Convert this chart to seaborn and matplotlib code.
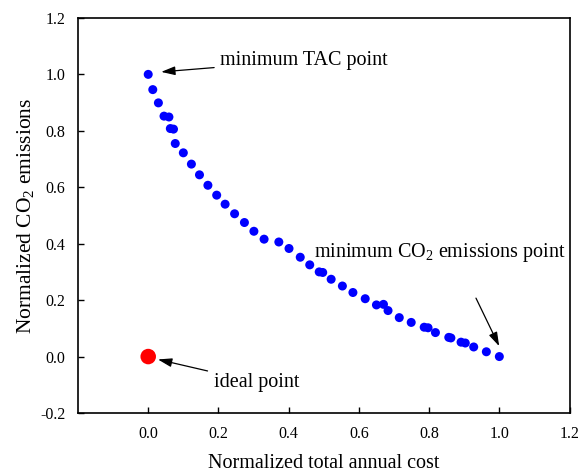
import matplotlib
matplotlib.use("Agg")
import matplotlib.pyplot as plt
import seaborn as sns
import pandas as pd

cost = [0.0, 0.013, 0.029, 0.045, 0.059, 0.063, 0.072, 0.077, 0.100, 0.123, 0.146, 0.170,
        0.195, 0.219, 0.246, 0.274, 0.301, 0.330, 0.372, 0.401, 0.433, 0.460, 0.487, 0.497,
        0.521, 0.553, 0.583, 0.618, 0.650, 0.670, 0.683, 0.715, 0.749, 0.786, 0.797, 0.818,
        0.856, 0.862, 0.891, 0.903, 0.927, 0.963, 1.0]
co2 = [1.0, 0.946, 0.899, 0.852, 0.849, 0.808, 0.806, 0.755, 0.722, 0.682, 0.644, 0.607,
       0.572, 0.540, 0.506, 0.475, 0.444, 0.416, 0.406, 0.383, 0.352, 0.325, 0.300, 0.298,
       0.274, 0.250, 0.227, 0.205, 0.183, 0.185, 0.163, 0.138, 0.121, 0.104, 0.102, 0.085,
       0.068, 0.066, 0.051, 0.048, 0.034, 0.017, 0.0]
ideal_x = [0.0]
ideal_y = [0.0]
xticks = [0.0, 0.2, 0.4, 0.6, 0.8, 1.0, 1.2]
yticks = [-0.2, 0.0, 0.2, 0.4, 0.6, 0.8, 1.0, 1.2]

sns.set_style("white")
plt.rcParams['font.family'] = ['Liberation Serif', 'DejaVu Serif']
plt.rcParams['mathtext.fontset'] = 'custom'
plt.rcParams['mathtext.rm'] = 'Liberation Serif'
plt.rcParams['mathtext.it'] = 'Liberation Serif:italic'
plt.rcParams['text.color'] = 'black'
plt.rcParams['axes.labelcolor'] = 'black'

fig = plt.figure(figsize=(5.79, 4.72), dpi=100)
ax = fig.add_axes([0.1347, 0.125, 0.849, 0.837])

df = pd.DataFrame({"cost": cost, "co2": co2})
sns.scatterplot(data=df, x="cost", y="co2", color="#0000ff", s=42, edgecolor="none", ax=ax, zorder=3)
sns.scatterplot(x=ideal_x, y=ideal_y, color="#ff0000", s=125, edgecolor="none", ax=ax, zorder=3)

ax.set_xlim(-0.2, 1.2)
ax.set_ylim(-0.2, 1.2)
ax.set_xticks(xticks)
ax.set_yticks(yticks)
ax.set_xticklabels([f"{t:.1f}" for t in xticks])
ax.set_yticklabels([f"{t:.1f}" for t in yticks])
ax.tick_params(direction="in", length=4, width=1, labelsize=11.5, colors="black", pad=9,
               bottom=True, left=True, top=False, right=False)
for sp in ax.spines.values():
    sp.set_color("black")
    sp.set_linewidth(1.2)

ax.set_xlabel("Normalized total annual cost", fontsize=14.5, labelpad=9, color="black")
ax.set_ylabel("Normalized CO$_2$ emissions", fontsize=15.5, labelpad=3, color="black")

aprops = dict(arrowstyle="-|>,head_length=0.7,head_width=0.22", color="black", lw=0.9,
              mutation_scale=12)
ax.annotate("minimum TAC point", xy=(0.029, 1.008), xytext=(0.205, 1.05),
            fontsize=14.5, va="center", ha="left", arrowprops=aprops)
ax.annotate("", xy=(1.003, 0.028), xytext=(0.93, 0.216), arrowprops=aprops)
ax.text(0.471, 0.369, "minimum CO$_2$ emissions point", fontsize=14.5, va="center", ha="left")
ax.annotate("ideal point", xy=(0.02, -0.008), xytext=(0.186, -0.091),
            fontsize=14.5, va="center", ha="left", arrowprops=aprops)

fig.savefig("out.png", dpi=100)
